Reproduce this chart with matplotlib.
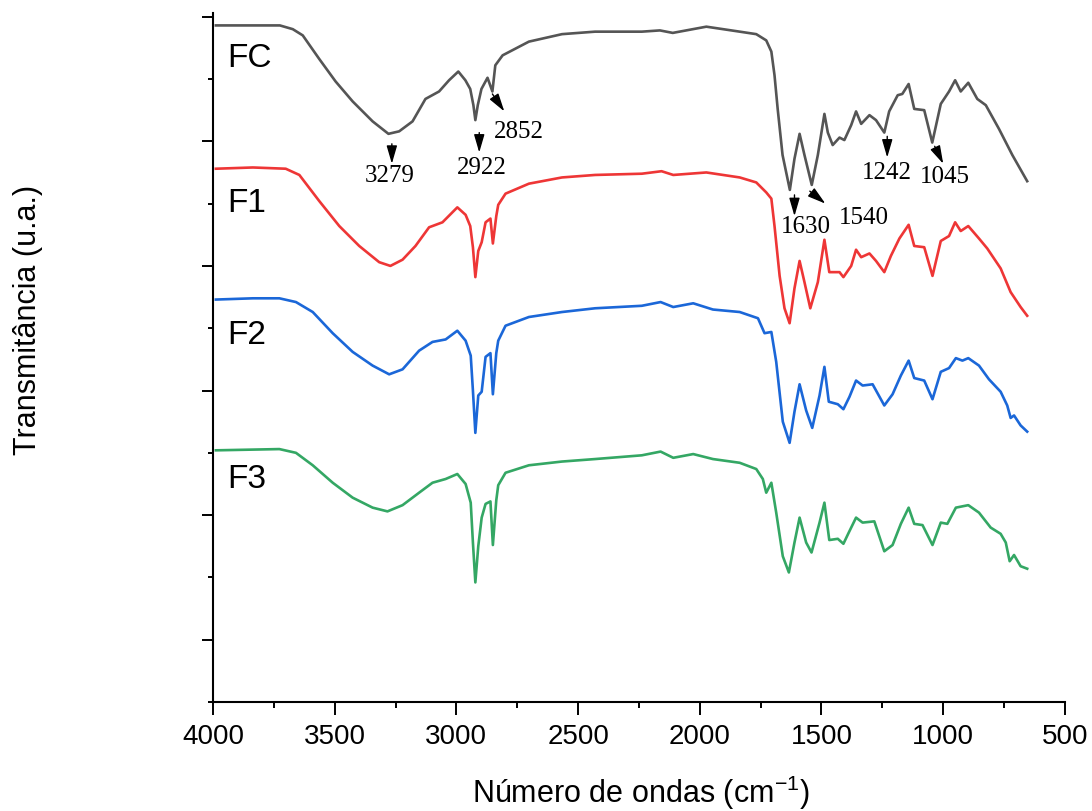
import matplotlib
matplotlib.use('Agg')
import matplotlib.pyplot as plt
from matplotlib.ticker import MultipleLocator

plt.rcParams['font.family'] = ['Liberation Sans', 'DejaVu Sans']
plt.rcParams['mathtext.default'] = 'regular'

# FTIR spectra (offset, arbitrary units)
fcWn = [3988, 3836, 3725, 3672, 3631, 3563, 3496, 3426, 3344, 3279, 3235, 3180, 3127, 3071, 3030,
        2992, 2963, 2943, 2930, 2922, 2912, 2897, 2872, 2852, 2840, 2810, 2702, 2566, 2430, 2238,
        2164, 2111, 1973, 1836, 1768, 1727, 1706, 1693, 1680, 1660, 1630, 1611, 1590, 1570, 1540,
        1515, 1488, 1474, 1454, 1426, 1406, 1378, 1358, 1337, 1303, 1276, 1242, 1222, 1187, 1168,
        1142, 1119, 1078, 1045, 1010, 976, 951, 928, 897, 860, 825, 771, 716, 655]
fcT = [543, 543, 543, 540, 535, 516, 498, 482, 466, 456, 458, 466, 484, 490, 499,
       506, 499, 492, 479, 467, 479, 492, 501, 490, 511, 519, 530, 536, 538, 538,
       539, 537, 542, 538, 536, 531, 522, 503, 476, 439, 411, 436, 456, 439, 415,
       439, 472, 457, 447, 453, 451, 463, 474, 464, 471, 467, 457, 474, 487, 488,
       496, 476, 475, 449, 480, 490, 499, 490, 497, 484, 479, 460, 439, 418]

f1Wn = [3988, 3836, 3701, 3645, 3563, 3481, 3399, 3317, 3271, 3221, 3168, 3112, 3057, 2996, 2962,
        2943, 2932, 2922, 2910, 2896, 2880, 2860, 2850, 2836, 2828, 2798, 2702, 2566, 2430, 2238,
        2157, 2109, 1973, 1836, 1768, 1727, 1706, 1693, 1672, 1652, 1631, 1611, 1590, 1570, 1546,
        1515, 1488, 1468, 1426, 1410, 1378, 1358, 1337, 1303, 1276, 1242, 1215, 1180, 1142, 1119,
        1078, 1044, 1010, 976, 951, 928, 897, 853, 819, 764, 723, 682, 655]
f1T = [428, 429, 428, 423, 402, 382, 366, 353, 350, 355, 366, 381, 385, 397, 391,
       382, 365, 341, 362, 369, 385, 388, 368, 390, 399, 408, 416, 421, 423, 424,
       426, 423, 425, 421, 417, 409, 404, 382, 342, 316, 304, 332, 354, 337, 316,
       337, 371, 345, 345, 341, 350, 363, 357, 360, 354, 345, 358, 372, 383, 366,
       365, 342, 370, 374, 385, 378, 382, 372, 364, 348, 329, 317, 310]

f2Wn = [3988, 3836, 3727, 3659, 3590, 3508, 3426, 3344, 3276, 3221, 3153, 3098, 3044, 2996, 2962,
        2941, 2932, 2922, 2910, 2896, 2880, 2860, 2850, 2836, 2828, 2798, 2702, 2566, 2430, 2238,
        2161, 2109, 2027, 1946, 1836, 1761, 1734, 1706, 1686, 1659, 1631, 1611, 1590, 1563, 1538,
        1508, 1488, 1470, 1433, 1410, 1385, 1358, 1331, 1290, 1242, 1208, 1174, 1142, 1119, 1078,
        1044, 1010, 976, 948, 921, 897, 853, 812, 764, 737, 723, 709, 682, 655]
f2T = [323, 324, 324, 321, 313, 296, 281, 270, 263, 267, 282, 289, 291, 298, 290,
       278, 250, 216, 246, 249, 277, 280, 247, 280, 290, 302, 309, 313, 316, 318,
       321, 317, 320, 315, 313, 308, 296, 297, 273, 225, 208, 233, 255, 234, 220,
       246, 269, 241, 239, 235, 245, 258, 254, 255, 238, 247, 262, 274, 260, 258,
       243, 265, 268, 276, 274, 276, 270, 259, 249, 238, 228, 230, 222, 217]

f3Wn = [3988, 3727, 3659, 3590, 3508, 3426, 3344, 3283, 3221, 3153, 3098, 3044, 2996, 2962, 2941,
        2932, 2922, 2910, 2896, 2880, 2860, 2850, 2836, 2828, 2798, 2702, 2566, 2430, 2238, 2161,
        2109, 2027, 1946, 1836, 1768, 1741, 1727, 1706, 1686, 1659, 1634, 1611, 1590, 1563, 1541,
        1508, 1488, 1468, 1433, 1410, 1388, 1358, 1331, 1283, 1242, 1208, 1174, 1142, 1119, 1085,
        1044, 1010, 983, 948, 897, 853, 805, 764, 743, 727, 709, 682, 655]
f3T = [202, 203, 200, 190, 176, 164, 156, 153, 158, 168, 176, 179, 183, 175, 160,
       128, 96, 125, 148, 159, 161, 126, 162, 174, 184, 190, 193, 195, 198, 201,
       196, 199, 195, 192, 187, 179, 168, 176, 152, 117, 104, 128, 148, 128, 120,
       144, 160, 130, 131, 127, 136, 148, 144, 145, 121, 126, 143, 156, 143, 142,
       126, 144, 143, 156, 158, 152, 140, 135, 128, 113, 118, 109, 107]

sampleNames = ['FC', 'F1', 'F2', 'F3']
sampleLabelY = [517, 401, 295, 179]
colours = ['#555555', '#ee3636', '#1b67d8', '#34a764']

# peak annotations: label, arrow tail (x, y), arrow tip (x, y), label position (x, y)
peakLabels = ['3279', '2922', '2852', '1630', '1540', '1242', '1045']
arrowTail = [(3265, 448), (2906, 457), (2852, 488), (1611, 407), (1548, 410), (1230, 454), (1035, 446)]
arrowTip = [(3265, 432), (2906, 441), (2803, 474), (1611, 390), (1484, 400), (1230, 437), (1000, 432)]
labelPos = [(3275, 423), (2894, 429), (2742, 458), (1566, 382), (1328, 389), (1230, 425), (994, 422)]

fig = plt.figure(figsize=(10.92, 8.12), dpi=100)
ax = fig.add_axes([0.195, 0.1342, 0.7802, 0.8486])

spectra = [(fcWn, fcT), (f1Wn, f1T), (f2Wn, f2T), (f3Wn, f3T)]
for (wn, t), c in zip(spectra, colours):
    ax.plot(wn, t, color=c, lw=1.9, solid_joinstyle='round')

for name, y in zip(sampleNames, sampleLabelY):
    ax.text(3942, y, name, fontsize=24, ha='left', va='center', color='black')

for lab, tail, tip, pos in zip(peakLabels, arrowTail, arrowTip, labelPos):
    ax.annotate('', xy=tip, xytext=tail,
                arrowprops=dict(arrowstyle='-|>,head_length=1.1,head_width=0.32',
                                mutation_scale=10, lw=1.0, color='black',
                                shrinkA=0, shrinkB=0))
    ax.text(pos[0], pos[1], lab, fontsize=18, ha='center', va='center',
            family='Liberation Serif', color='black')

ax.set_xlim(4000, 500)
ax.set_ylim(0, 553)
ax.xaxis.set_major_locator(MultipleLocator(500))
ax.xaxis.set_minor_locator(MultipleLocator(250))
ax.set_yticks([50, 150, 250, 350, 450, 550])
ax.set_yticks([0, 100, 200, 300, 400, 500], minor=True)
ax.set_yticklabels([])

for s in ['top', 'right']:
    ax.spines[s].set_visible(False)
for s in ['left', 'bottom']:
    ax.spines[s].set_linewidth(1.5)

ax.tick_params(axis='x', which='major', direction='out', length=9, width=1.4,
               labelsize=20, pad=6)
ax.tick_params(axis='x', which='minor', direction='out', length=4.5, width=1.4)
ax.tick_params(axis='y', which='major', direction='out', length=8, width=1.4)
ax.tick_params(axis='y', which='minor', direction='out', length=3.6, width=1.4)

ax.set_xlabel('Número de ondas (cm$^{-1}$)', fontsize=22)
ax.xaxis.set_label_coords(0.502, -0.102)
ax.set_ylabel('Transmitância (u.a.)', fontsize=22)
ax.yaxis.set_label_coords(-0.199, 0.556)

fig.savefig('out.png', dpi=100)
